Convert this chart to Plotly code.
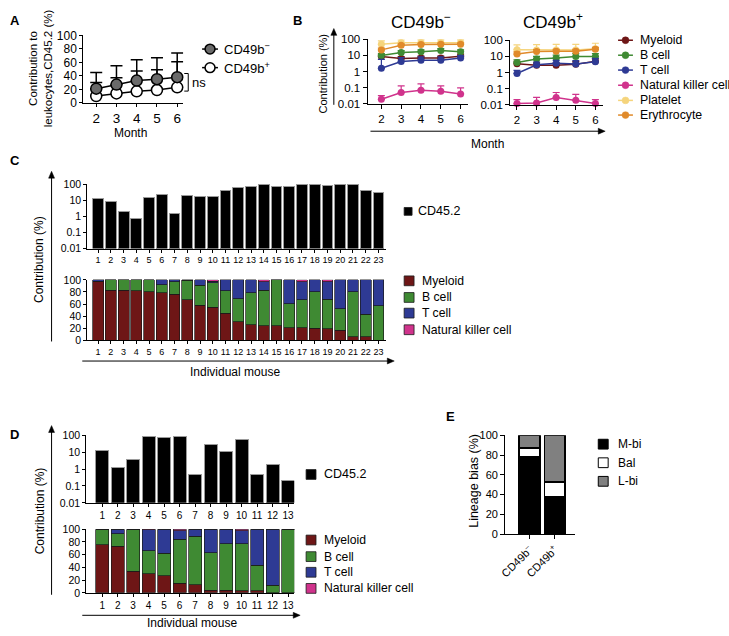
import math
import plotly.graph_objects as go

W, H = 729, 636
FONT = "Liberation Sans, Arial, Helvetica, sans-serif"

# ---------------- data ----------------
months = [2, 3, 4, 5, 6]

# Panel A: contribution to leukocytes (mean, upper SD)
a_neg_mean = [21, 27, 33, 35, 38]
a_neg_sd = [24, 28, 31, 32, 36]
a_pos_mean = [10, 14, 17, 19, 23]
a_pos_sd = [20, 23, 30, 30, 38]

# Panel B lineage names
lineages_b = ["Myeloid", "B cell", "T cell", "Natural killer cell", "Platelet", "Erythrocyte"]

# Panel B: CD49b- lineages (mean, upper SD)
bn_myeloid = [8.5, 6.5, 7, 7, 9]
bn_myeloid_sd = [2.5, 2, 2, 2, 3]
bn_bcell = [10, 15, 17, 20, 17]
bn_bcell_sd = [3, 5, 5, 6, 5]
bn_tcell = [1.6, 4.2, 5, 5, 6.8]
bn_tcell_sd = [4, 3, 3, 3, 3]
bn_nk = [0.019, 0.05, 0.07, 0.06, 0.041]
bn_nk_sd = [0.013, 0.08, 0.1, 0.07, 0.057]
bn_platelet = [50, 60, 60, 60, 60]
bn_platelet_sd = [30, 30, 32, 32, 32]
bn_ery = [22, 42, 48, 50, 50]
bn_ery_sd = [6, 8, 8, 8, 8]

# Panel B: CD49b+ lineages
bp_myeloid = [3.5, 2.8, 2.8, 3.2, 5]
bp_myeloid_sd = [1.5, 1.2, 1.2, 1.5, 2]
bp_bcell = [4.2, 7, 8, 10, 10]
bp_bcell_sd = [2, 3, 4, 5, 5]
bp_tcell = [0.87, 3, 3.7, 3.4, 4.6]
bp_tcell_sd = [0.5, 1.5, 2, 2, 3]
bp_nk = [0.012, 0.013, 0.028, 0.019, 0.012]
bp_nk_sd = [0.009, 0.016, 0.03, 0.025, 0.009]
bp_platelet = [26, 25, 25, 25, 30]
bp_platelet_sd = [25, 28, 30, 30, 35]
bp_ery = [14, 20, 21, 21, 28]
bp_ery_sd = [5, 6, 6, 6, 8]

# Panel C: 23 individual mice
c_mice = list(range(1, 24))
c_cd452 = [13, 7.8, 2.0, 0.75, 15.5, 24, 1.5, 20, 16, 18, 39, 63, 75, 96, 69, 69,
           91, 91, 83, 87, 87, 41, 31]
c_myeloid = [97, 83, 83, 82, 80, 79, 76, 67, 58, 55, 45, 31, 26, 24, 24, 21, 21, 20, 19, 17, 6, 6, 0]
c_bcell = [1, 17, 17, 18, 20, 13, 21, 32, 33, 40, 37, 38, 53, 59, 76, 40, 46, 60, 49, 35, 74, 37, 57]
c_tcell = [2, 0, 0, 0, 0, 8, 3, 1, 9, 3, 18, 31, 21, 14, 0, 39, 30, 20, 29, 48, 20, 57, 43]
c_nk = [0, 0, 0, 0, 0, 0, 0, 0, 0, 2, 0, 0, 0, 3, 0, 0, 3, 0, 3, 0, 0, 0, 0]

# Panel D: 13 individual mice
d_mice = list(range(1, 14))
d_cd452 = [12, 1.2, 3.7, 85, 77, 90, 0.47, 27, 11, 58, 0.47, 1.8, 0.21]
d_myeloid = [76, 73, 34, 30, 27, 15, 13, 4, 4, 3, 3, 0, 0]
d_bcell = [24, 20, 66, 36, 35, 69, 76, 59, 73, 74, 40, 12, 100]
d_tcell = [0, 7, 0, 33, 38, 14, 11, 37, 23, 21, 57, 88, 0]
d_nk = [0, 0, 0, 1, 0, 2, 0, 0, 0, 2, 0, 0, 0]

# Panel E: lineage bias
e_groups = ["CD49b<sup>–</sup>", "CD49b<sup>+</sup>"]
e_mbi = [78, 38]
e_bal = [9, 15]
e_lbi = [13, 47]

log_ticks = [0.01, 0.1, 1, 10, 100]
log_ticktext = ["0.01", "0.1", "1", "10", "100"]

# ---------------- style ----------------
COL = {
    "Myeloid": "#6e1616",
    "B cell": "#3f8a33",
    "T cell": "#2e3a94",
    "Natural killer cell": "#d0338c",
    "Platelet": "#f5d47c",
    "Erythrocyte": "#e08a2a",
}


def X(px):
    return px / W


def Y(py):
    return 1 - py / H


fig = go.Figure()

# ---- Panel A ----
fig.add_trace(go.Scatter(
    x=months, y=a_pos_mean, mode="lines+markers", xaxis="x", yaxis="y",
    line=dict(color="black", width=1.5),
    marker=dict(size=11, color="white", line=dict(color="black", width=1.5)),
    error_y=dict(type="data", symmetric=False, array=a_pos_sd, arrayminus=[0] * 5,
                 color="black", thickness=1.5, width=6),
    cliponaxis=False, name="CD49b+"))
fig.add_trace(go.Scatter(
    x=months, y=a_neg_mean, mode="lines+markers", xaxis="x", yaxis="y",
    line=dict(color="black", width=1.5),
    marker=dict(size=11, color="#6a6a6a", line=dict(color="black", width=1.5)),
    error_y=dict(type="data", symmetric=False, array=a_neg_sd, arrayminus=[0] * 5,
                 color="black", thickness=1.5, width=6),
    cliponaxis=False, name="CD49b-"))

# ---- Panel B ----
b_sets = [
    ("x2", "y2", [
        ("Myeloid", bn_myeloid, bn_myeloid_sd), ("B cell", bn_bcell, bn_bcell_sd),
        ("T cell", bn_tcell, bn_tcell_sd), ("Natural killer cell", bn_nk, bn_nk_sd),
        ("Platelet", bn_platelet, bn_platelet_sd), ("Erythrocyte", bn_ery, bn_ery_sd)]),
    ("x3", "y3", [
        ("Myeloid", bp_myeloid, bp_myeloid_sd), ("B cell", bp_bcell, bp_bcell_sd),
        ("T cell", bp_tcell, bp_tcell_sd), ("Natural killer cell", bp_nk, bp_nk_sd),
        ("Platelet", bp_platelet, bp_platelet_sd), ("Erythrocyte", bp_ery, bp_ery_sd)]),
]
for xa, ya, series in b_sets:
    for name, vals, sd in series:
        fig.add_trace(go.Scatter(
            x=months, y=vals, mode="lines+markers", xaxis=xa, yaxis=ya, name=name,
            line=dict(color=COL[name], width=1.5),
            marker=dict(size=7, color=COL[name]),
            error_y=dict(type="data", symmetric=False, array=sd, arrayminus=[0] * 5,
                         color=COL[name], thickness=1.2, width=3.5),
            cliponaxis=False))

# ---- Panel C ----
fig.add_trace(go.Bar(x=c_mice, y=c_cd452, xaxis="x4", yaxis="y4", width=0.85,
                     marker=dict(color="black", line=dict(color="#9a9a9a", width=1)),
                     name="CD45.2"))
for name, vals in [("Myeloid", c_myeloid), ("B cell", c_bcell), ("T cell", c_tcell),
                   ("Natural killer cell", c_nk)]:
    fig.add_trace(go.Bar(x=c_mice, y=vals, xaxis="x5", yaxis="y5", width=0.85, name=name,
                         marker=dict(color=COL[name], line=dict(color="#1a1a1a", width=0.7))))

# ---- Panel D ----
fig.add_trace(go.Bar(x=d_mice, y=d_cd452, xaxis="x6", yaxis="y6", width=0.84,
                     marker=dict(color="black", line=dict(color="#9a9a9a", width=1)),
                     name="CD45.2"))
for name, vals in [("Myeloid", d_myeloid), ("B cell", d_bcell), ("T cell", d_tcell),
                   ("Natural killer cell", d_nk)]:
    fig.add_trace(go.Bar(x=d_mice, y=vals, xaxis="x7", yaxis="y7", width=0.84, name=name,
                         marker=dict(color=COL[name], line=dict(color="#1a1a1a", width=0.7))))

# ---- Panel E ----
for name, vals, col in [("M-bi", e_mbi, "black"), ("Bal", e_bal, "white"), ("L-bi", e_lbi, "#808080")]:
    fig.add_trace(go.Bar(x=e_groups, y=vals, xaxis="x8", yaxis="y8", width=0.82, name=name,
                         marker=dict(color=col, line=dict(color="black", width=1.5))))

# ---------------- axes ----------------
base = dict(showline=True, linecolor="black", linewidth=1, ticks="outside", ticklen=4,
            tickwidth=1, tickcolor="black", showgrid=False, zeroline=False,
            fixedrange=True, tickangle=0)


def ax(**kw):
    d = dict(base)
    f = kw.pop("fs", 11)
    d["tickfont"] = dict(family=FONT, size=f, color="black")
    d.update(kw)
    return d


layout_axes = dict(
    # A
    xaxis=ax(domain=[X(77), X(178)], range=[1.36, 6.3], tickvals=months, fs=13.5, ticklen=3, anchor="y"),
    yaxis=ax(domain=[Y(98), Y(29)], range=[0, 100], tickvals=[0, 20, 40, 60, 80, 100], fs=12,
             ticklen=3, anchor="x"),
    # B left
    xaxis2=ax(domain=[X(364), X(465)], range=[1.3, 6.35], tickvals=months, fs=11.5, anchor="y2"),
    yaxis2=ax(domain=[Y(99), Y(33)], type="log", range=[-2, 2], tickvals=log_ticks,
              ticktext=log_ticktext, fs=11.5, anchor="x2"),
    # B right
    xaxis3=ax(domain=[X(508), X(602)], range=[1.65, 6.4], tickvals=months, fs=11.5, anchor="y3"),
    yaxis3=ax(domain=[Y(100), Y(34)], type="log", range=[-2, 2], tickvals=log_ticks,
              ticktext=log_ticktext, fs=11.5, anchor="x3"),
    # C top
    xaxis4=ax(domain=[X(81), X(383)], range=[0.145, 23.62], tickvals=c_mice, fs=9, ticklen=3, anchor="y4"),
    yaxis4=ax(domain=[Y(247), Y(181)], type="log", range=[-2, 2], tickvals=log_ticks,
              ticktext=log_ticktext, fs=10.5, ticklen=3, anchor="x4"),
    # C bottom
    xaxis5=ax(domain=[X(81), X(383)], range=[0.145, 23.62], tickvals=c_mice, fs=9, ticklen=3, anchor="y5"),
    yaxis5=ax(domain=[Y(341), Y(279)], range=[0, 100], tickvals=[0, 20, 40, 60, 80, 100],
              fs=10.5, ticklen=3, anchor="x5"),
    # D top
    xaxis6=ax(domain=[X(80), X(290)], range=[-0.03, 13.4], tickvals=d_mice, fs=10, ticklen=3, anchor="y6"),
    yaxis6=ax(domain=[Y(507), Y(438)], type="log", range=[-2, 2], tickvals=log_ticks,
              ticktext=log_ticktext, fs=10.5, ticklen=3, anchor="x6"),
    # D bottom
    xaxis7=ax(domain=[X(80), X(290)], range=[-0.03, 13.4], tickvals=d_mice, fs=10, ticklen=3, anchor="y7"),
    yaxis7=ax(domain=[Y(599), Y(534)], range=[0, 100], tickvals=[0, 20, 40, 60, 80, 100],
              fs=10.5, ticklen=3, anchor="x7"),
    # E
    xaxis8=ax(domain=[X(503), X(574)], type="category", range=[-0.96, 1.82], fs=11,
              tickangle=-45, anchor="y8"),
    yaxis8=ax(domain=[Y(539), Y(438)], range=[0, 100], tickvals=[0, 20, 40, 60, 80, 100],
              fs=11, anchor="x8"),
)

# ---------------- annotations & shapes ----------------
anns = []
shapes = []


def text(t, x, y, size, angle=0, bold=False, xanchor="center", yanchor="middle"):
    if bold:
        t = "<b>" + t + "</b>"
    anns.append(dict(text=t, x=X(x), y=Y(y), xref="paper", yref="paper", showarrow=False,
                     font=dict(family=FONT, size=size, color="black"), textangle=angle,
                     xanchor=xanchor, yanchor=yanchor))


def line_px(x0, y0, x1, y1, color="black", width=1.5):
    shapes.append(dict(type="line", xref="paper", yref="paper", x0=X(x0), y0=Y(y0),
                       x1=X(x1), y1=Y(y1), line=dict(color=color, width=width)))


def arrow(hx, hy, tx, ty, head=7, half=3):
    dx, dy = hx - tx, hy - ty
    ln = math.hypot(dx, dy)
    ux, uy = dx / ln, dy / ln
    nx, ny = -uy, ux
    bx, by = hx - head * ux, hy - head * uy
    line_px(tx, ty, bx + ux, by + uy, width=1)
    p = "M {:.5f},{:.5f} L {:.5f},{:.5f} L {:.5f},{:.5f} Z".format(
        X(hx), Y(hy), X(bx + half * nx), Y(by + half * ny), X(bx - half * nx), Y(by - half * ny))
    shapes.append(dict(type="path", xref="paper", yref="paper", path=p,
                       fillcolor="black", line=dict(color="black", width=0.5)))


def circle_px(cx, cy, r, fill, edge, width=1.2):
    shapes.append(dict(type="circle", xref="paper", yref="paper", x0=X(cx - r), x1=X(cx + r),
                       y0=Y(cy + r), y1=Y(cy - r), fillcolor=fill, line=dict(color=edge, width=width)))


def square_px(x0, cy, s, fill, edge="#1a1a1a", width=0.8):
    shapes.append(dict(type="rect", xref="paper", yref="paper", x0=X(x0), x1=X(x0 + s),
                       y0=Y(cy + s / 2), y1=Y(cy - s / 2), fillcolor=fill,
                       line=dict(color=edge, width=width)))


# panel letters
text("A", 8, 14, 13, bold=True)
text("B", 293, 14, 13, bold=True)
text("C", 8, 157, 13, bold=True)
text("D", 8, 437, 13, bold=True)
text("E", 448, 419, 13, bold=True)

# Panel A labels
text("Contribution to<br>leukocytes,CD45.2 (%)", 34, 63, 11.5, angle=-90)
text("Month", 125, 129, 12)
text("ns", 185, 77, 13, xanchor="left")

# Panel B labels
text("CD49b<sup>−</sup>", 418, 14, 17)
text("CD49b<sup>+</sup>", 551, 14, 17)
text("Contribution (%)", 319, 68, 11, angle=-90)
arrow(330, 22, 330, 100)
arrow(604, 127, 367, 127)
text("Month", 485, 140, 12)

# Panel C labels
text("Contribution (%)", 33, 258, 12, angle=-90)
arrow(45, 168, 45, 342)
arrow(391, 362, 76, 362)
text("Individual mouse", 230, 373, 12)

# Panel D labels
text("Contribution (%)", 33, 515, 12, angle=-90)
arrow(45, 428, 45, 601)
arrow(296, 622, 76, 622)
text("Individual mouse", 187, 630, 12)

# Panel E label
text("Lineage bias (%)", 472, 484, 12.5, angle=-90)

# A legend
for yy, fill, lab in [(43, "#6a6a6a", "CD49b<sup>−</sup>"), (62, "white", "CD49b<sup>+</sup>")]:
    line_px(197, yy, 213, yy)
    circle_px(205, yy, 5, fill, "black", 1.5)
    text(lab, 217, yy, 13, xanchor="left")

# ns bracket
line_px(179, 68, 183, 68, width=1)
line_px(183, 68, 183, 86, width=1)
line_px(179, 86, 183, 86, width=1)

# B legend
for yy, name in zip([34, 49.3, 64.5, 80, 95.5, 110.5], lineages_b):
    line_px(617, yy, 632, yy, color=COL[name], width=1.5)
    circle_px(624.5, yy, 3.5, COL[name], COL[name], 0.5)
    text(name, 637, yy, 12.3, xanchor="left")

# C legends
square_px(401, 209, 8, "black")
text("CD45.2", 413, 209, 12.5, xanchor="left")
for yy, name in zip([280, 297, 313, 330], ["Myeloid", "B cell", "T cell", "Natural killer cell"]):
    square_px(401, yy, 10, COL[name])
    text(name, 417, yy, 12.2, xanchor="left")

# D legends
square_px(302, 478, 10, "black")
text("CD45.2", 318, 478, 12.5, xanchor="left")
for yy, name in zip([545, 562, 578, 594.5], ["Myeloid", "B cell", "T cell", "Natural killer cell"]):
    square_px(302, yy, 10, COL[name])
    text(name, 318, yy, 12.2, xanchor="left")

# E legend
for yy, name, fill in [(447, "M-bi", "black"), (466, "Bal", "white"), (485, "L-bi", "#808080")]:
    square_px(597, yy, 10, fill, edge="black", width=1)
    text(name, 615, yy, 12, xanchor="left")

fig.update_layout(
    width=W, height=H, margin=dict(l=0, r=0, t=0, b=0),
    paper_bgcolor="white", plot_bgcolor="white",
    showlegend=False, barmode="stack",
    font=dict(family=FONT, color="black"),
    annotations=anns, shapes=shapes,
    **layout_axes,
)

fig.write_html("out.html",
               config={"displayModeBar": False, "staticPlot": True},
               post_script="document.body.style.margin='0px';document.body.style.padding='0px';")
